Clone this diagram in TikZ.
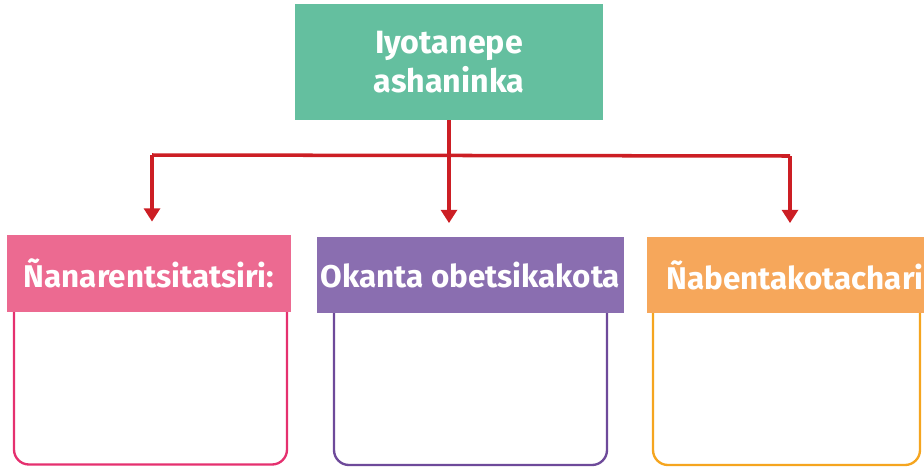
\documentclass[tikz,border=0pt]{standalone}
\usepackage{fontspec}
\setmainfont{Fira Sans}
\usepackage{xcolor}
\usetikzlibrary{arrows.meta,positioning,calc}

\definecolor{rootgreen}{HTML}{64BF9F}
\definecolor{hdrpink}{HTML}{EC6A91}
\definecolor{linepink}{HTML}{E5306F}
\definecolor{hdrpurple}{HTML}{8A6EB0}
\definecolor{linepurple}{HTML}{6E4A9A}
\definecolor{hdrorange}{HTML}{F6A75B}
\definecolor{lineorange}{HTML}{F5A51F}
\definecolor{arrowred}{HTML}{CC1E24}

\begin{document}
\begin{tikzpicture}[
  x=0.03cm, y=-0.03cm,
  rootbox/.style={rectangle, fill=rootgreen, text=white, align=center, font=\fontsize{27.5}{33}\selectfont\bfseries, minimum width=9.24cm, minimum height=3.48cm},
  header/.style={rectangle, text=white, inner xsep=0pt, font=\fontsize{26.8}{32}\selectfont\bfseries, minimum height=2.3cm},
  body/.style={rectangle, rounded corners=0.45cm, draw, line width=2pt, fill=white, minimum height=5.1cm},
  link/.style={arrowred, line width=3pt},
  arrow/.style={-{Triangle[length=0.4cm, width=0.48cm]}, arrowred, line width=3pt, shorten >=0.4cm}
]
\clip (0,0) rectangle (924,466);
\useasboundingbox (0,0) rectangle (924,466);

\node[rootbox] (root) at (449,62) {Iyotanepe\\ashaninka};

% bodies first, headers on top
\node[body, draw=linepink, minimum width=8.19cm] (bodyA) at (150.5,379.5) {};
\node[body, draw=linepurple, minimum width=8.19cm] (bodyB) at (470.5,380) {};
\node[body, draw=lineorange, minimum width=8.01cm] (bodyC) at (786.5,380) {};

\node[header, fill=hdrpink, minimum width=8.52cm] (hdrA) at (149,273.5) {Ñanarentsitatsiri:};
\node[header, fill=hdrpurple, minimum width=9.21cm] (hdrB) at (470.5,275) {Okanta obetsikakota};
\node[header, fill=hdrorange, minimum width=8.9cm] (hdrC) at (795,275) {Ñabentakotachari};

\coordinate (barL) at (152,155);
\coordinate (barR) at (790,156);

\draw[link] (barL) -- (barR);
\draw[arrow] (root.south) -- (root.south |- hdrB.north);
\draw[arrow] (barL) -- (barL |- hdrA.north);
\draw[arrow] (barR) -- (barR |- hdrC.north);

\end{tikzpicture}
\end{document}
